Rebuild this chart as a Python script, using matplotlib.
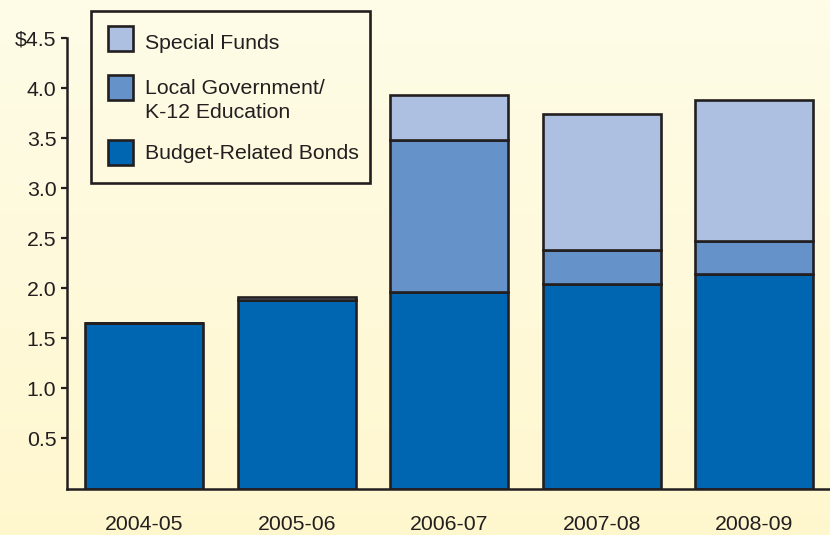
import numpy as np
import matplotlib
matplotlib.use("Agg")
import matplotlib.pyplot as plt
from matplotlib.colors import LinearSegmentedColormap
from matplotlib.patches import Rectangle

plt.rcParams['font.family'] = ['Liberation Sans', 'DejaVu Sans']

# Debt service by fiscal year (billions of dollars)
years = ["2004-05", "2005-06", "2006-07", "2007-08", "2008-09"]
budget_bonds = [1.65, 1.88, 1.96, 2.045, 2.14]
local_k12 = [0.0, 0.0, 1.52, 0.335, 0.335]
special_funds = [0.0, 0.03, 0.45, 1.36, 1.405]

series_names = ["Special Funds", "Local Government/\nK-12 Education", "Budget-Related Bonds"]
series_colors = ["#ADC0E1", "#6692CA", "#0066B2"]
ytick_vals = [0.5, 1.0, 1.5, 2.0, 2.5, 3.0, 3.5, 4.0, 4.5]
ytick_labels = ["0.5", "1.0", "1.5", "2.0", "2.5", "3.0", "3.5", "4.0", "$4.5"]

ink = "#231F20"
W, H = 830, 535
fig = plt.figure(figsize=(W / 100, H / 100), dpi=100)

# soft cream background gradient
bg = fig.add_axes([0, 0, 1, 1], zorder=-10)
cmap = LinearSegmentedColormap.from_list("cream", ["#FFFCE8", "#FEF7CE"])
bg.imshow(np.linspace(0, 1, 256).reshape(-1, 1), aspect="auto", cmap=cmap,
          extent=[0, 1, 0, 1])
bg.axis("off")

ax = fig.add_axes([66.7 / W, (H - 488.5) / H, (W - 66.7) / W, (488.5 - 38.3) / H])
ax.patch.set_alpha(0)

x = np.arange(len(years))
width = 0.773
lw = 1.9
b1 = np.array(budget_bonds)
b2 = b1 + np.array(local_k12)
ax.bar(x, budget_bonds, width, color=series_colors[2], edgecolor=ink, linewidth=lw, zorder=3)
ax.bar(x, local_k12, width, bottom=b1, color=series_colors[1], edgecolor=ink, linewidth=lw, zorder=3)
ax.bar(x, special_funds, width, bottom=b2, color=series_colors[0], edgecolor=ink, linewidth=lw, zorder=3)

ax.set_xlim(-0.507, 4.495)
ax.set_ylim(0, 4.5)
ax.set_yticks(ytick_vals)
ax.set_yticklabels(ytick_labels)
ax.set_xticks(x)
ax.set_xticklabels(years)
for s in ["top", "right"]:
    ax.spines[s].set_visible(False)
for s in ["left", "bottom"]:
    ax.spines[s].set_linewidth(1.8)
    ax.spines[s].set_color(ink)
    ax.spines[s].set_zorder(5)
ax.tick_params(axis="y", length=4, width=1.6, color=ink, pad=3.5,
               labelsize=15.3, labelcolor=ink)
ax.tick_params(axis="x", length=0, pad=19, labelsize=15.3, labelcolor=ink)

# legend box, drawn in figure pixel coordinates
def fx(px):
    return px / W

def fy(py):
    return 1 - py / H

fig.patches.append(Rectangle((fx(90.7), fy(183.3)), fx(370) - fx(90.7), fy(10.7) - fy(183.3),
                             transform=fig.transFigure, facecolor="none", edgecolor=ink,
                             linewidth=1.9, zorder=10))
patch_tops = [26, 74.5, 140.5]
text_baselines = [49.3, 94, 159.3]
line_step = 24.5
for name, color, top, base in zip(series_names, series_colors, patch_tops, text_baselines):
    fig.patches.append(Rectangle((fx(107.5), fy(top + 25)), fx(25), 25 / H,
                                 transform=fig.transFigure, facecolor=color,
                                 edgecolor=ink, linewidth=1.9, zorder=11))
    for i, line in enumerate(name.split("\n")):
        fig.text(fx(145), fy(base + i * line_step), line, fontsize=15.3, color=ink,
                 va="baseline", ha="left", transform=fig.transFigure)

fig.savefig("out.png", dpi=100)
